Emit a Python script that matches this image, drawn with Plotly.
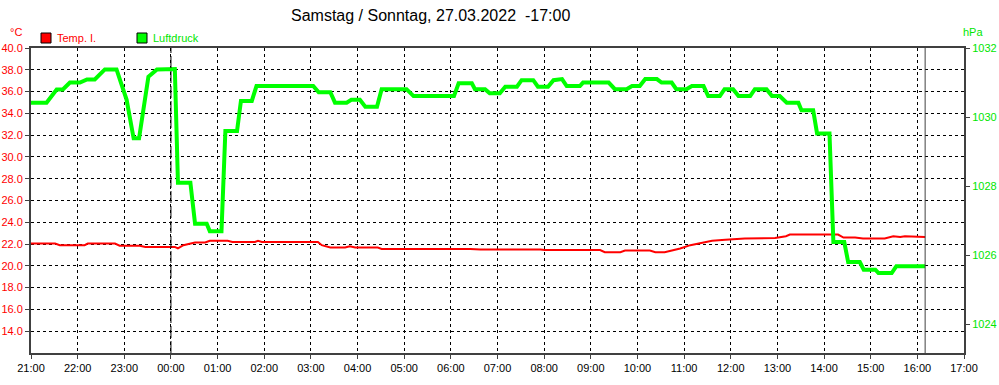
import plotly.graph_objects as go
import pandas as pd

# ---------------- data ----------------
title_text = "Samstag / Sonntag, 27.03.2022  -17:00"

press_times = ["21:00", "21:20", "21:33", "21:41", "21:50", "22:03", "22:12", "22:22", "22:35", "22:50",
               "23:03", "23:12", "23:19", "23:31", "23:42", "00:05", "00:09", "00:25", "00:31", "00:46",
               "00:50", "01:05", "01:10", "01:25", "01:30", "01:44", "01:50", "03:03", "03:10", "03:25",
               "03:31", "03:46", "03:52", "04:03", "04:10", "04:25", "04:31", "05:03", "05:12", "06:04",
               "06:10", "06:27", "06:31", "06:44", "06:50", "07:03", "07:10", "07:25", "07:31", "07:46",
               "07:52", "08:05", "08:12", "08:23", "08:29", "08:46", "08:50", "09:23", "09:31", "09:46",
               "09:53", "10:03", "10:10", "10:25", "10:31", "10:44", "10:50", "11:03", "11:10", "11:25",
               "11:31", "11:46", "11:52", "12:03", "12:10", "12:25", "12:31", "12:46", "12:53", "13:03",
               "13:12", "13:27", "13:31", "13:46", "13:51", "14:07", "14:12", "14:26", "14:31", "14:46",
               "14:51", "15:06", "15:10", "15:27", "15:33", "16:10"]
press_vals = [1030.42, 1030.42, 1030.80, 1030.80, 1031.00, 1031.00, 1031.09, 1031.09, 1031.38, 1031.38,
              1030.50, 1029.39, 1029.39, 1031.17, 1031.38, 1031.39, 1028.10, 1028.10, 1026.92, 1026.92,
              1026.70, 1026.70, 1029.60, 1029.60, 1030.47, 1030.47, 1030.90, 1030.90, 1030.72, 1030.72,
              1030.42, 1030.42, 1030.50, 1030.50, 1030.30, 1030.30, 1030.81, 1030.81, 1030.61, 1030.61,
              1030.98, 1030.98, 1030.81, 1030.81, 1030.69, 1030.69, 1030.88, 1030.88, 1031.07, 1031.07,
              1030.88, 1030.88, 1031.07, 1031.10, 1030.90, 1030.90, 1031.00, 1031.00, 1030.81, 1030.81,
              1030.90, 1030.90, 1031.10, 1031.10, 1031.00, 1031.00, 1030.81, 1030.81, 1030.90, 1030.90,
              1030.61, 1030.61, 1030.81, 1030.81, 1030.61, 1030.61, 1030.81, 1030.81, 1030.61, 1030.61,
              1030.42, 1030.42, 1030.20, 1030.20, 1029.53, 1029.53, 1026.39, 1026.39, 1025.81, 1025.81,
              1025.59, 1025.59, 1025.49, 1025.49, 1025.69, 1025.69]

temp_times = ["21:00", "21:31", "21:37", "22:09", "22:13", "22:48", "22:54", "23:20", "23:27", "00:05",
              "00:09", "00:16", "00:31", "00:44", "00:50", "01:13", "01:19", "01:48", "01:52", "01:57",
              "03:09", "03:14", "03:25", "03:44", "03:50", "03:57", "04:26", "04:31", "06:25", "06:38",
              "07:55", "08:01", "09:12", "09:18", "09:38", "09:44", "10:16", "10:23", "10:35", "10:55",
              "11:08", "11:20", "11:36", "11:53", "12:18", "12:57", "13:11", "13:16", "14:18", "14:25",
              "14:40", "14:50", "15:18", "15:29", "15:38", "15:44", "16:10"]
temp_vals = [22.05, 22.05, 21.90, 21.90, 22.05, 22.05, 21.85, 21.85, 21.74, 21.74,
             21.60, 21.90, 22.14, 22.14, 22.30, 22.30, 22.20, 22.20, 22.30, 22.20,
             22.20, 21.90, 21.68, 21.68, 21.80, 21.68, 21.68, 21.55, 21.55, 21.50,
             21.50, 21.45, 21.45, 21.25, 21.25, 21.40, 21.40, 21.25, 21.25, 21.60,
             21.90, 22.10, 22.30, 22.40, 22.50, 22.55, 22.72, 22.87, 22.87, 22.60,
             22.60, 22.51, 22.51, 22.72, 22.65, 22.72, 22.65]

temp_ticks = [14, 16, 18, 20, 22, 24, 26, 28, 30, 32, 34, 36, 38, 40]
press_ticks = [1024, 1026, 1028, 1030, 1032]
x_start = "2022-03-26 21:00"
x_end = "2022-03-27 17:00"
midnight = "2022-03-27 00:00"
now_time = "2022-03-27 16:10"


def to_dt(times):
    out = []
    for t in times:
        h = int(t.split(":")[0])
        day = "2022-03-26" if h >= 21 else "2022-03-27"
        out.append(pd.Timestamp(f"{day} {t}"))
    return out


RED = "#ff0000"
GREEN = "#00ff00"
GREEN_TXT = "#00e600"
FRAME = "#404040"
FONT = "Liberation Sans, Arial, sans-serif"
FS = 11

fig = go.Figure()
fig.add_trace(go.Scatter(x=to_dt(temp_times), y=temp_vals, mode="lines",
                         line=dict(color=RED, width=2), name="Temp. I.", yaxis="y"))
fig.add_trace(go.Scatter(x=to_dt(press_times), y=press_vals, mode="lines",
                         line=dict(color=GREEN, width=4), name="Luftdruck", yaxis="y2"))

L, R, T, B = 31, 35, 48, 32
W, H = 999, 385
pw, ph = W - L - R, H - T - B


def px(xp):
    return (xp - L) / pw


def py(yp):
    return (H - B - yp) / ph


fig.update_layout(
    width=W, height=H,
    margin=dict(l=L, r=R, t=T, b=B, autoexpand=False),
    paper_bgcolor="white", plot_bgcolor="white",
    showlegend=False,
    font=dict(family=FONT, size=FS, color="black"),
    xaxis=dict(type="date", range=[x_start, x_end], dtick=3600000, tick0=x_start,
               tickformat="%H:%M", showgrid=True, gridcolor="black", griddash="3px,3px",
               gridwidth=1, showline=True, linecolor=FRAME, linewidth=2, mirror=True,
               ticks="outside", ticklen=4, tickcolor=FRAME, zeroline=False, automargin=False,
               tickfont=dict(size=FS, color="black", family=FONT)),
    yaxis=dict(range=[12, 40], tickvals=temp_ticks, tickformat=".1f", showgrid=True,
               gridcolor="black", griddash="3px,3px", gridwidth=1, showline=True,
               linecolor=FRAME, linewidth=2, mirror=True, ticks="outside", ticklen=4,
               tickcolor=FRAME, zeroline=False, automargin=False,
               tickfont=dict(size=FS, color=RED, family=FONT)),
    yaxis2=dict(range=[1023.18, 1032], tickvals=press_ticks, overlaying="y", side="right",
                showgrid=False, showline=True, linecolor=FRAME, linewidth=2, ticks="outside",
                ticklen=4, tickcolor=FRAME, zeroline=False, automargin=False,
                tickfont=dict(size=FS, color=GREEN_TXT, family=FONT)),
)

# midnight and current-time lines
fig.add_shape(type="line", xref="x", yref="paper", x0=midnight, x1=midnight, y0=0, y1=1,
              line=dict(color="black", width=1, dash="12px,3px"))
fig.add_shape(type="line", xref="x", yref="paper", x0=now_time, x1=now_time, y0=0, y1=1,
              line=dict(color=FRAME, width=1))

# title and axis units
fig.add_annotation(text=title_text, xref="paper", yref="paper", x=px(430), y=py(16),
                   xanchor="center", yanchor="middle",
                   showarrow=False, font=dict(size=16, color="black", family=FONT))
fig.add_annotation(text="°C", xref="paper", yref="paper", x=px(16), y=py(32),
                   xanchor="center", yanchor="middle",
                   showarrow=False, font=dict(size=FS, color=RED, family=FONT))
fig.add_annotation(text="hPa", xref="paper", yref="paper", x=px(973), y=py(32),
                   xanchor="center", yanchor="middle",
                   showarrow=False, font=dict(size=FS, color=GREEN_TXT, family=FONT))

# custom legend
for (x0, color, label) in [(41, RED, "Temp. I."), (137, GREEN, "Luftdruck")]:
    fig.add_shape(type="rect", xref="paper", yref="paper", x0=px(x0), x1=px(x0 + 10),
                  y0=py(43), y1=py(33), fillcolor=color, line=dict(color="black", width=1))
    fig.add_annotation(text=label, xref="paper", yref="paper", x=px(x0 + 14), y=py(38),
                       xanchor="left", yanchor="middle", showarrow=False,
                       font=dict(size=FS, color=RED if color == RED else GREEN_TXT, family=FONT))

fig.write_html("out.html", config={"displayModeBar": False},
               post_script="document.body.style.margin='0px';document.body.style.padding='0px';")
